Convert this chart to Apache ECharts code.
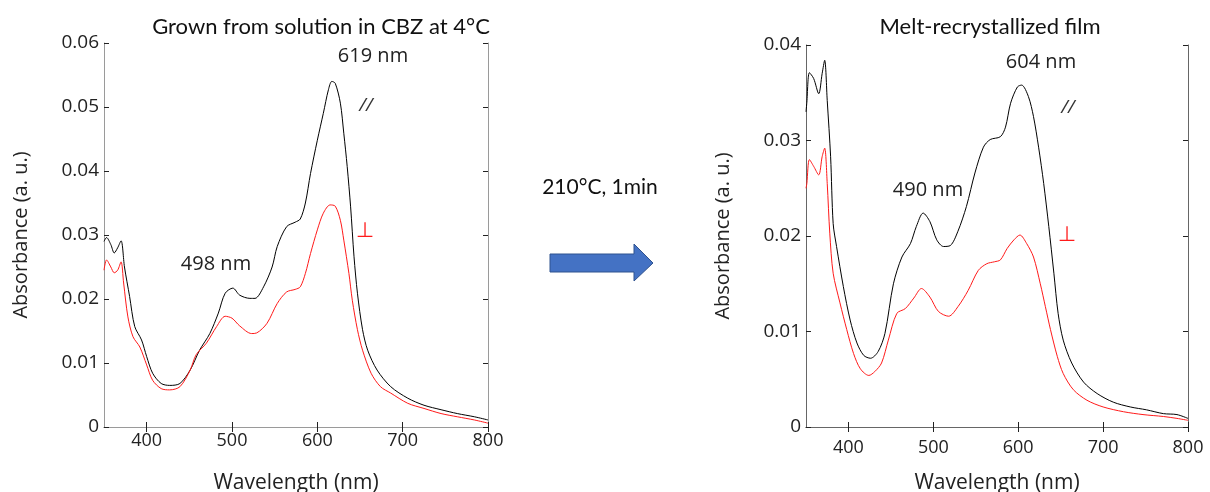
<!DOCTYPE html>
<html>
<head>
<meta charset="utf-8">
<script src="https://cdn.jsdelivr.net/npm/echarts@6/dist/echarts.min.js"></script>
<style>
  html, body { margin: 0; padding: 0; background: #fff; }
  #chart { width: 1210px; height: 492px; }
</style>
</head>
<body>
<div id="chart"></div>
<script>
// wavelength tick labels (nm)
const wlTicks = [400, 500, 600, 700, 800];

// left panel: grown from solution in CBZ at 4 °C
const grownParaWl = [350, 353, 358, 362, 366, 370, 374, 380, 386, 394, 400, 407, 417, 427, 439, 451, 462, 474, 484, 492, 501, 509, 521, 527, 537, 547, 553, 564, 574, 580, 586, 592, 600, 607, 613, 617, 621, 627, 631, 635, 639, 643, 647, 653, 659, 670, 686, 706, 725, 745, 764, 784, 800];
const grownPara = [0.0290, 0.0296, 0.0285, 0.0272, 0.0280, 0.0291, 0.0250, 0.0204, 0.0157, 0.0136, 0.0110, 0.0084, 0.0068, 0.0065, 0.0068, 0.0089, 0.0120, 0.0146, 0.0178, 0.0209, 0.0217, 0.0206, 0.0201, 0.0201, 0.0219, 0.0250, 0.0282, 0.0313, 0.0320, 0.0325, 0.0350, 0.0396, 0.0448, 0.0490, 0.0527, 0.0540, 0.0537, 0.0506, 0.0459, 0.0407, 0.0344, 0.0266, 0.0209, 0.0152, 0.0120, 0.0089, 0.0063, 0.0045, 0.0034, 0.0027, 0.0021, 0.0016, 0.0011];
const grownPerpWl = [350, 353, 358, 362, 366, 370, 373, 378, 384, 392, 400, 407, 417, 427, 439, 451, 458, 470, 482, 492, 500, 509, 523, 529, 541, 553, 564, 574, 580, 586, 592, 600, 607, 615, 621, 627, 631, 637, 641, 647, 653, 663, 674, 686, 706, 725, 745, 764, 784, 800];
const grownPerp = [0.0245, 0.0261, 0.0250, 0.0241, 0.0245, 0.0258, 0.0225, 0.0172, 0.0141, 0.0125, 0.0097, 0.0073, 0.0060, 0.0058, 0.0063, 0.0089, 0.0113, 0.0131, 0.0157, 0.0173, 0.0170, 0.0158, 0.0146, 0.0147, 0.0162, 0.0193, 0.0211, 0.0215, 0.0219, 0.0240, 0.0271, 0.0308, 0.0334, 0.0347, 0.0345, 0.0323, 0.0292, 0.0240, 0.0198, 0.0152, 0.0120, 0.0084, 0.0063, 0.0053, 0.0037, 0.0029, 0.0021, 0.0016, 0.0011, 0.0006];

// right panel: melt-recrystallized film
const meltParaWl = [350, 351, 354, 359, 365, 369, 372, 375, 379, 382, 386, 394, 402, 410, 418, 426, 435, 443, 453, 463, 473, 480, 488, 496, 504, 512, 520, 529, 539, 549, 559, 567, 579, 585, 591, 599, 604, 612, 618, 624, 630, 636, 642, 647, 653, 663, 677, 693, 712, 732, 751, 771, 787, 800];
const meltPara = [0.0330, 0.0340, 0.0371, 0.0365, 0.0349, 0.0370, 0.0384, 0.0342, 0.0283, 0.0213, 0.0189, 0.0147, 0.0112, 0.0088, 0.0075, 0.0072, 0.0079, 0.0098, 0.0150, 0.0178, 0.0192, 0.0210, 0.0224, 0.0215, 0.0196, 0.0189, 0.0190, 0.0205, 0.0231, 0.0266, 0.0293, 0.0301, 0.0304, 0.0314, 0.0339, 0.0356, 0.0358, 0.0346, 0.0325, 0.0293, 0.0255, 0.0210, 0.0161, 0.0119, 0.0091, 0.0067, 0.0047, 0.0035, 0.0026, 0.0021, 0.0018, 0.0014, 0.0013, 0.0009];
const meltPerpWl = [350, 351, 354, 359, 365, 369, 372, 375, 378, 382, 390, 398, 406, 414, 424, 431, 439, 447, 457, 467, 477, 486, 496, 506, 518, 529, 541, 553, 563, 572, 579, 587, 595, 602, 610, 618, 626, 632, 638, 646, 653, 665, 681, 700, 724, 747, 771, 787, 800];
const meltPerp = [0.0250, 0.0255, 0.0280, 0.0273, 0.0264, 0.0283, 0.0292, 0.0255, 0.0203, 0.0161, 0.0130, 0.0102, 0.0077, 0.0061, 0.0054, 0.0058, 0.0067, 0.0091, 0.0119, 0.0124, 0.0135, 0.0145, 0.0136, 0.0121, 0.0116, 0.0126, 0.0143, 0.0164, 0.0171, 0.0173, 0.0175, 0.0187, 0.0196, 0.0201, 0.0192, 0.0178, 0.0150, 0.0126, 0.0102, 0.0074, 0.0056, 0.0039, 0.0028, 0.0021, 0.0016, 0.0013, 0.0011, 0.0009, 0.0007];

const zip = (xs, ys) => xs.map((x, i) => [x, ys[i]]);

const tickFont = '"Open Sans", "Noto Sans", sans-serif';
const textFont = 'Lato, "Open Sans", sans-serif';
const frameColors = ["#9a9a9a", "#666"];

function xAxes(gridIndex) {
  const base = {
    gridIndex,
    type: "value",
    min: 350,
    max: 800,
    axisLine: { show: true, lineStyle: { color: frameColors[gridIndex], width: 1 } },
    axisTick: { show: true, inside: true, length: 5, customValues: wlTicks, lineStyle: { color: "#222" } },
    splitLine: { show: false },
  };
  return [
    {
      ...base,
      position: "bottom",
      name: "Wavelength (nm)",
      nameLocation: "middle",
      nameGap: 46,
      nameTextStyle: { fontFamily: tickFont, fontSize: 21, color: "#222" },
      axisLabel: {
        customValues: wlTicks,
        margin: gridIndex === 0 ? 5 : 12,
        fontFamily: tickFont,
        fontSize: 18,
        color: "#222",
      },
    },
    { ...base, position: "top", axisLabel: { show: false } },
  ];
}

function yAxes(gridIndex, max) {
  const base = {
    gridIndex,
    type: "value",
    min: 0,
    max,
    interval: 0.01,
    axisLine: { show: true, lineStyle: { color: frameColors[gridIndex], width: 1 } },
    axisTick: { show: true, inside: true, length: 5, lineStyle: { color: "#222" } },
    splitLine: { show: false },
  };
  return [
    {
      ...base,
      position: "left",
      name: "Absorbance (a. u.)",
      nameLocation: "middle",
      nameGap: 73,
      nameTextStyle: { fontFamily: tickFont, fontSize: 20, color: "#222" },
      axisLabel: {
        margin: 5,
        fontFamily: tickFont,
        fontSize: 19,
        color: "#222",
        formatter: (v) => (v === 0 ? "0" : v.toFixed(2)),
      },
    },
    { ...base, position: "right", axisLabel: { show: false } },
  ];
}

function spectrum(name, data, color, axisIdx) {
  return {
    name,
    type: "line",
    data,
    xAxisIndex: axisIdx,
    yAxisIndex: axisIdx,
    showSymbol: false,
    smooth: 0.3,
    lineStyle: { color, width: 1 },
    animation: false,
  };
}

const chart = echarts.init(document.getElementById("chart"));
chart.setOption({
  backgroundColor: "#fff",
  title: [
    {
      text: "Grown from solution in CBZ at 4°C",
      left: 316,
      top: 11,
      textAlign: "center",
      textStyle: { fontFamily: textFont, fontSize: 22, fontWeight: "normal", color: "#111" },
    },
    {
      text: "Melt-recrystallized film",
      left: 985,
      top: 11,
      textAlign: "center",
      textStyle: { fontFamily: textFont, fontSize: 22, fontWeight: "normal", color: "#111" },
    },
  ],
  grid: [
    { left: 104, top: 43, width: 384, height: 384, outerBoundsMode: "none", containLabel: false },
    { left: 806, top: 45, width: 382, height: 382, outerBoundsMode: "none", containLabel: false },
  ],
  xAxis: [...xAxes(0), ...xAxes(1)],
  yAxis: [...yAxes(0, 0.06), ...yAxes(1, 0.04)],
  series: [
    spectrum("grown //", zip(grownParaWl, grownPara), "#000", 0),
    spectrum("grown ⊥", zip(grownPerpWl, grownPerp), "#ff1a1a", 0),
    spectrum("melt //", zip(meltParaWl, meltPara), "#000", 2),
    spectrum("melt ⊥", zip(meltPerpWl, meltPerp), "#ff1a1a", 2),
  ],
  graphic: [
    // peak labels and polarization marks
    { type: "text", style: { text: "619 nm", x: 373, y: 56, align: "center", verticalAlign: "middle", font: '20px "Open Sans"', fill: "#222" } },
    { type: "text", style: { text: "//", x: 366, y: 106, align: "center", verticalAlign: "middle", font: 'italic 19px "Open Sans"', fill: "#333" } },
    { type: "text", style: { text: "⊥", x: 365, y: 232, align: "center", verticalAlign: "middle", font: '21px "DejaVu Sans"', fill: "#ff1a1a" } },
    { type: "text", style: { text: "498 nm", x: 216, y: 264, align: "center", verticalAlign: "middle", font: '20px "Open Sans"', fill: "#222" } },
    { type: "text", style: { text: "604 nm", x: 1041, y: 62, align: "center", verticalAlign: "middle", font: '20px "Open Sans"', fill: "#222" } },
    { type: "text", style: { text: "//", x: 1068, y: 108, align: "center", verticalAlign: "middle", font: 'italic 19px "Open Sans"', fill: "#333" } },
    { type: "text", style: { text: "⊥", x: 1067, y: 236, align: "center", verticalAlign: "middle", font: '21px "DejaVu Sans"', fill: "#ff1a1a" } },
    { type: "text", style: { text: "490 nm", x: 928, y: 190, align: "center", verticalAlign: "middle", font: '20px "Open Sans"', fill: "#222" } },
    // treatment step between panels
    { type: "text", style: { text: "210°C, 1min", x: 600, y: 187, align: "center", verticalAlign: "middle", font: '21px Lato', fill: "#111" } },
    {
      type: "polygon",
      shape: { points: [[550, 254], [634, 254], [634, 244], [653, 263], [634, 281], [634, 272], [550, 272]] },
      style: { fill: "#4472c4", stroke: "#2f528f", lineWidth: 1 },
    },
  ],
});
</script>
</body>
</html>
